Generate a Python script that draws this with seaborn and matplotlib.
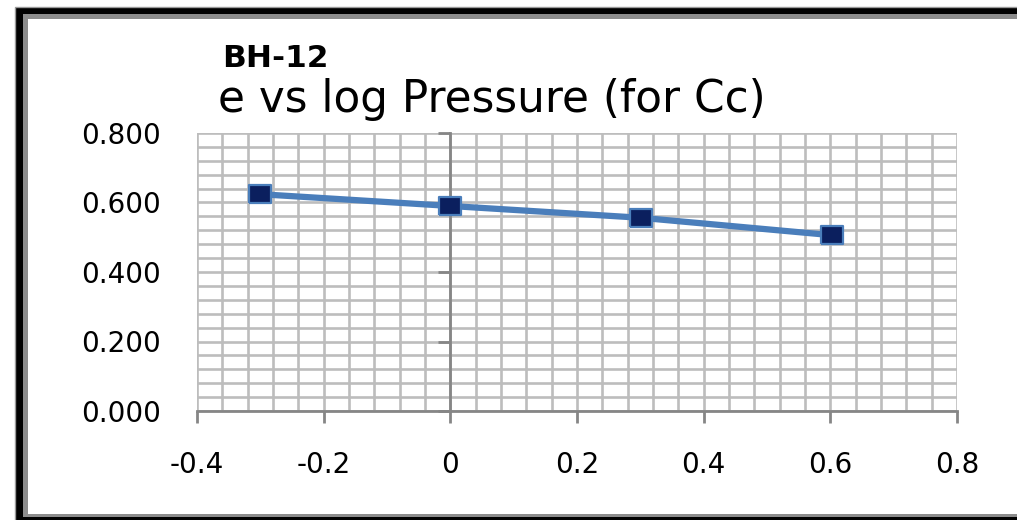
import numpy as np
import pandas as pd
import matplotlib
matplotlib.use("Agg")
import matplotlib.pyplot as plt
from matplotlib.patches import Rectangle
from matplotlib.ticker import MultipleLocator, FuncFormatter
import seaborn as sns

# Consolidation test results, borehole BH-12
log_pressure = [-0.301, 0.0, 0.301, 0.602]
void_ratio = [0.624, 0.590, 0.556, 0.506]
x_ticks = [-0.4, -0.2, 0.0, 0.2, 0.4, 0.6, 0.8]
y_ticks = [0.0, 0.2, 0.4, 0.6, 0.8]

df = pd.DataFrame({"log_p": log_pressure, "e": void_ratio})

sns.set_theme(style="white")
plt.rcParams["font.family"] = ["DejaVu Sans"]
plt.rcParams["text.color"] = "black"

W, H = 1017, 520
fig = plt.figure(figsize=(W / 100, H / 100), dpi=100, facecolor="white")


def fx(px):
    return px / W


def fy(py):
    return 1 - py / H


# chart frame: black outer band, grey inner rule, white chart area
fig.patches.append(Rectangle((fx(15), fy(530)), fx(1040) - fx(15), fy(7) - fy(530),
                             transform=fig.transFigure, facecolor="black",
                             edgecolor="#9a9a9a", linewidth=1.0, zorder=-10))
fig.patches.append(Rectangle((fx(23), fy(517)), fx(1040) - fx(23), fy(14) - fy(517),
                             transform=fig.transFigure, facecolor="#8c8c8c",
                             edgecolor="none", zorder=-9))
fig.patches.append(Rectangle((fx(28), fy(514)), fx(1040) - fx(28), fy(19) - fy(514),
                             transform=fig.transFigure, facecolor="white",
                             edgecolor="none", zorder=-8))

ax = fig.add_axes([fx(197), fy(411), fx(957) - fx(197), fy(133) - fy(411)])
ax.set_facecolor("white")

grid_col = "#bdbdbd"
axis_col = "#868686"

# marker: slightly wide filled square
box = [(-1.2, -1), (1.2, -1), (1.2, 1), (-1.2, 1), (-1.2, -1)]
sns.lineplot(data=df, x="log_p", y="e", ax=ax, color="#4a7ebb", linewidth=4.5,
             marker=box, markersize=16, markerfacecolor="#0b1f5e",
             markeredgecolor="#4a7ebb", markeredgewidth=1.6, zorder=5)

ax.set_xlim(x_ticks[0], x_ticks[-1])
ax.set_ylim(y_ticks[0], y_ticks[-1])
ax.xaxis.set_major_locator(MultipleLocator(0.2))
ax.xaxis.set_minor_locator(MultipleLocator(0.04))
ax.yaxis.set_major_locator(MultipleLocator(0.2))
ax.yaxis.set_minor_locator(MultipleLocator(0.04))
ax.xaxis.set_major_formatter(FuncFormatter(lambda v, p: "0" if abs(v) < 1e-9 else f"{v:g}"))
ax.yaxis.set_major_formatter(FuncFormatter(lambda v, p: f"{v:.3f}"))

ax.grid(True, which="both", color=grid_col, linewidth=1.9)
ax.set_axisbelow(True)

for s in ("top", "right", "left"):
    ax.spines[s].set_visible(False)
ax.spines["bottom"].set_color(axis_col)
ax.spines["bottom"].set_linewidth(2)

ax.tick_params(axis="x", which="major", direction="out", length=8.5, width=2,
               color=axis_col, labelsize=20, labelcolor="black", pad=20, bottom=True)
ax.tick_params(axis="x", which="minor", length=0)
ax.tick_params(axis="y", which="both", length=0, labelsize=20, labelcolor="black", pad=26)
ax.set_xlabel("")
ax.set_ylabel("")

# vertical value axis crossing at x = 0
x0 = (0 - x_ticks[0]) / (x_ticks[-1] - x_ticks[0])
sec = ax.secondary_yaxis(x0)
sec.set_zorder(1.5)
sec.yaxis.set_major_locator(MultipleLocator(0.2))
sec.spines["left"].set_color(axis_col)
sec.spines["left"].set_linewidth(2)
sec.tick_params(axis="y", which="major", direction="out", length=8.5, width=2,
                color=axis_col, labelleft=False, labelright=False)
sec.tick_params(axis="y", which="minor", length=0)

fig.text(fx(222), fy(67), "BH-12", fontsize=22.5, fontweight="bold", color="black",
         ha="left", va="baseline")
fig.text(fx(218), fy(112), "e vs log Pressure (for Cc)", fontsize=31.5, color="black",
         ha="left", va="baseline")

fig.savefig("out.png", dpi=100, facecolor="white")
